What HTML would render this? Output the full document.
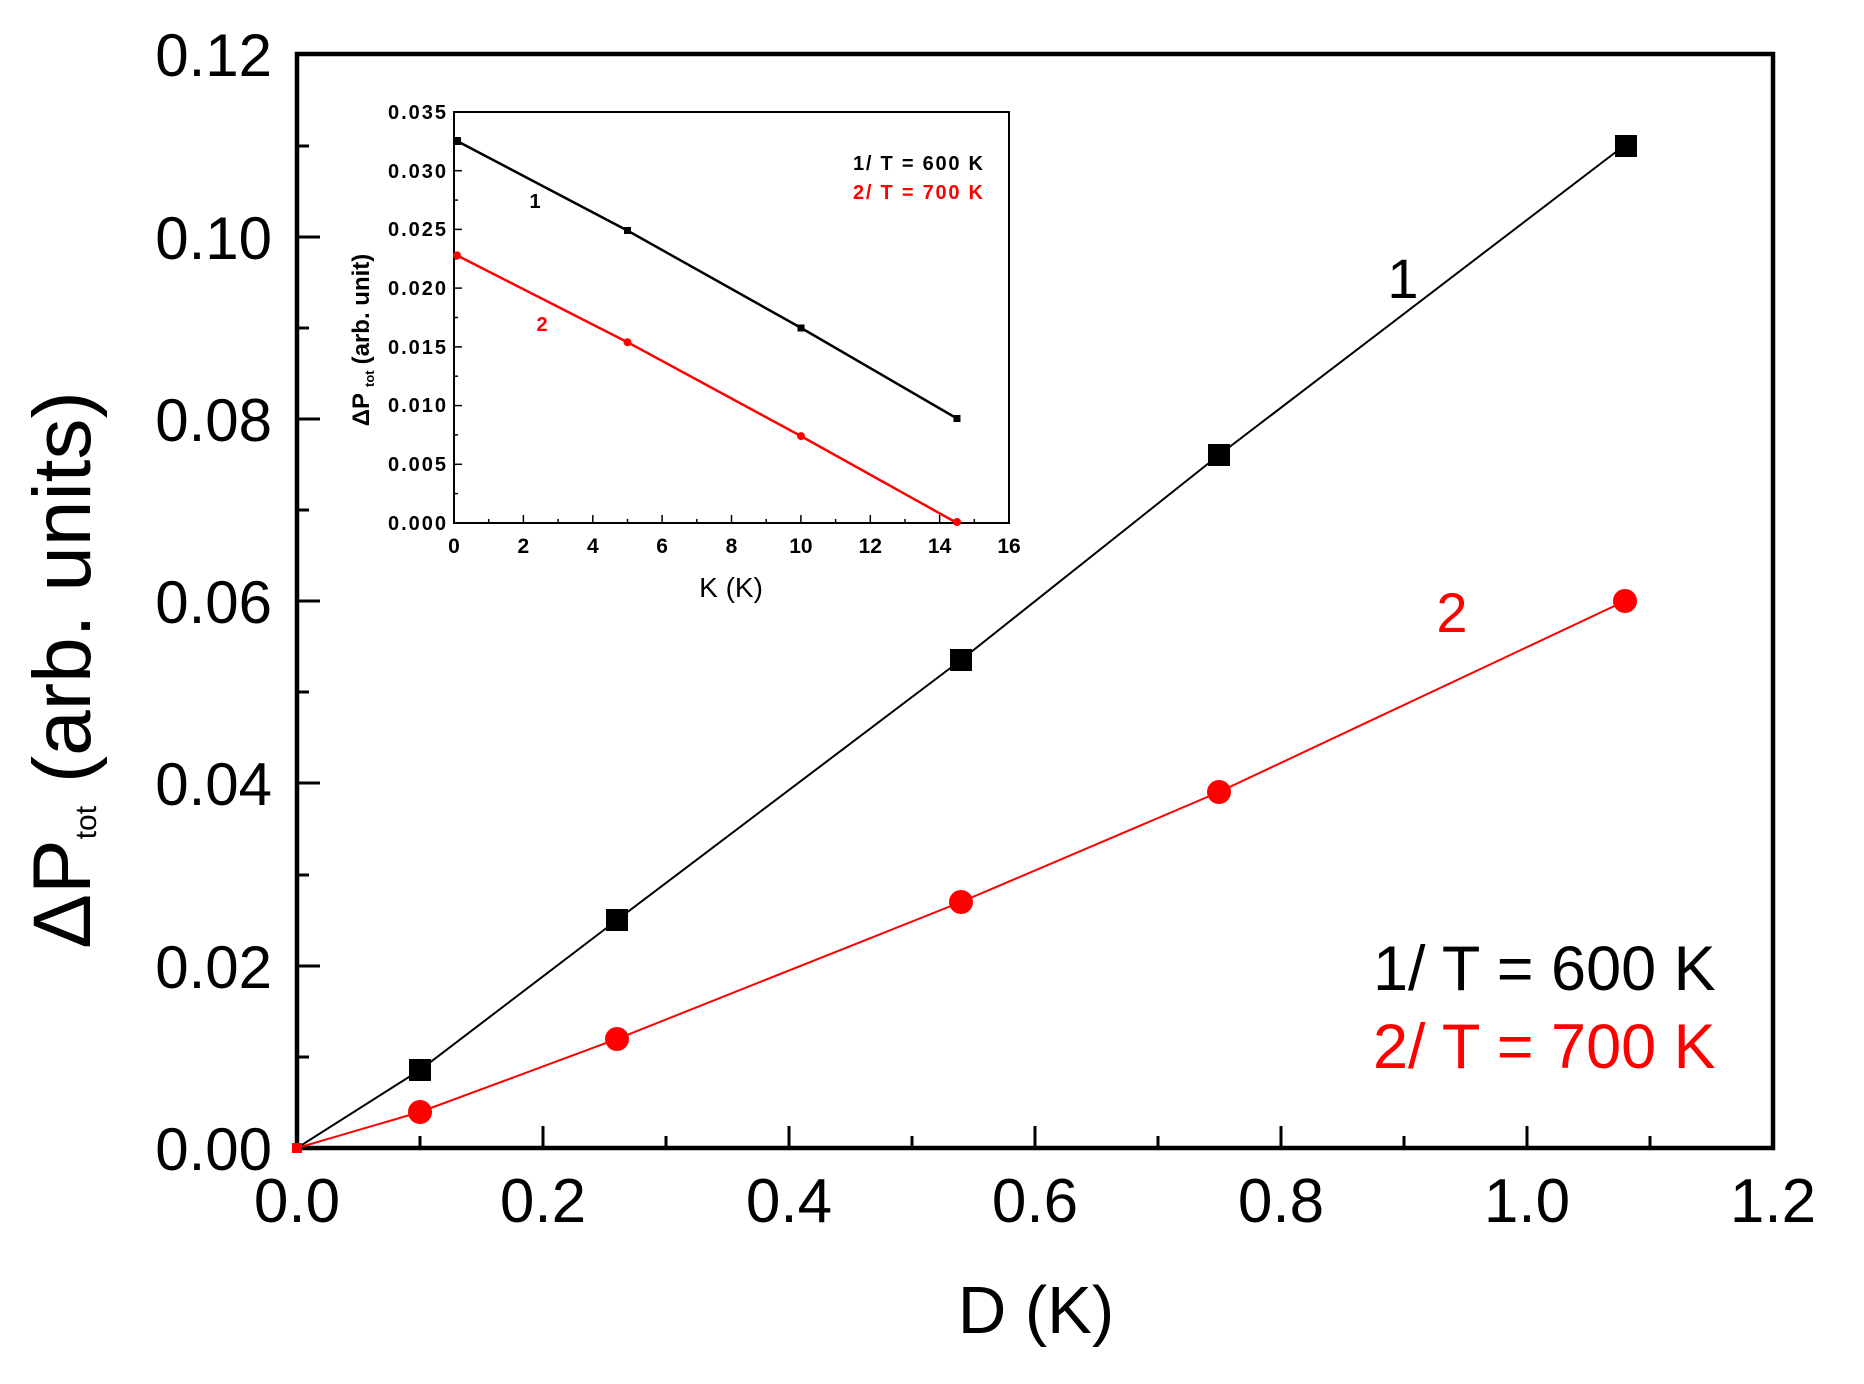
<!DOCTYPE html>
<html><head><meta charset="utf-8"><style>
html,body{margin:0;padding:0;background:#fff;}
svg{display:block;}
text{font-family:"Liberation Sans",Arial,sans-serif;}
</style></head><body>
<svg width="1864" height="1384" viewBox="0 0 1864 1384" xmlns="http://www.w3.org/2000/svg">
<rect width="1864" height="1384" fill="#fff"/>
<rect x="297" y="54" width="1476" height="1094" fill="none" stroke="#000" stroke-width="4.5"/>
<g stroke="#000" stroke-width="3">
<line x1="543" y1="1148" x2="543" y2="1126"/><line x1="789" y1="1148" x2="789" y2="1126"/><line x1="1035" y1="1148" x2="1035" y2="1126"/><line x1="1281" y1="1148" x2="1281" y2="1126"/><line x1="1527" y1="1148" x2="1527" y2="1126"/>
<line x1="420" y1="1148" x2="420" y2="1136"/><line x1="666" y1="1148" x2="666" y2="1136"/><line x1="912" y1="1148" x2="912" y2="1136"/><line x1="1158" y1="1148" x2="1158" y2="1136"/><line x1="1404" y1="1148" x2="1404" y2="1136"/><line x1="1650" y1="1148" x2="1650" y2="1136"/>
<line x1="297" y1="966" x2="320" y2="966"/><line x1="297" y1="783" x2="320" y2="783"/><line x1="297" y1="601" x2="320" y2="601"/><line x1="297" y1="419" x2="320" y2="419"/><line x1="297" y1="237" x2="320" y2="237"/>
<line x1="297" y1="1057" x2="309" y2="1057"/><line x1="297" y1="875" x2="309" y2="875"/><line x1="297" y1="692" x2="309" y2="692"/><line x1="297" y1="510" x2="309" y2="510"/><line x1="297" y1="328" x2="309" y2="328"/><line x1="297" y1="146" x2="309" y2="146"/>
</g>
<g font-size="60" text-anchor="end" fill="#000">
<text x="272" y="1170">0.00</text><text x="272" y="988">0.02</text><text x="272" y="805">0.04</text><text x="272" y="623">0.06</text><text x="272" y="441">0.08</text><text x="272" y="259">0.10</text><text x="272" y="76">0.12</text>
</g>
<g font-size="62" text-anchor="middle" fill="#000">
<text x="297" y="1222">0.0</text><text x="543" y="1222">0.2</text><text x="789" y="1222">0.4</text><text x="1035" y="1222">0.6</text><text x="1281" y="1222">0.8</text><text x="1527" y="1222">1.0</text><text x="1773" y="1222">1.2</text>
</g>
<text x="1036" y="1333" font-size="67" text-anchor="middle">D (K)</text>
<text transform="translate(90,670) rotate(-90)" font-size="82" text-anchor="middle">ΔP<tspan font-size="30" dy="6">tot</tspan><tspan dy="-6"> (arb. units)</tspan></text>
<polyline fill="none" stroke="#000" stroke-width="2" points="297,1148 420,1070 617,920 961,660 1219,455 1625,145"/>
<g fill="#000">
<rect x="409" y="1059" width="22" height="22"/><rect x="606" y="909" width="22" height="22"/><rect x="950" y="649" width="22" height="22"/><rect x="1208" y="444" width="22" height="22"/><rect x="1615" y="135" width="22" height="22"/>
</g>
<polyline fill="none" stroke="#f00" stroke-width="2" points="297,1148 420,1112 617,1039 961,902 1219,792 1625,601"/>
<g fill="#f00">
<rect x="292" y="1143" width="10" height="10"/>
<ellipse cx="420" cy="1112" rx="12" ry="12"/><ellipse cx="617" cy="1039" rx="12" ry="12"/><ellipse cx="961" cy="902" rx="12" ry="12"/><ellipse cx="1219" cy="792" rx="12" ry="12"/><ellipse cx="1625" cy="601" rx="12" ry="12"/>
</g>
<text x="1403" y="298" font-size="56" text-anchor="middle">1</text>
<text x="1452" y="632" font-size="56" text-anchor="middle" fill="#f00">2</text>
<text x="1373" y="990" font-size="63">1/ T = 600 K</text>
<text x="1373" y="1068" font-size="63" fill="#f00">2/ T = 700 K</text>
<rect x="454" y="112" width="555" height="411" fill="#fff" stroke="#000" stroke-width="2"/>
<g stroke="#000" stroke-width="1.5">
<line x1="523.4" y1="523" x2="523.4" y2="515"/><line x1="592.8" y1="523" x2="592.8" y2="515"/><line x1="662.1" y1="523" x2="662.1" y2="515"/><line x1="731.5" y1="523" x2="731.5" y2="515"/><line x1="800.9" y1="523" x2="800.9" y2="515"/><line x1="870.3" y1="523" x2="870.3" y2="515"/><line x1="939.6" y1="523" x2="939.6" y2="515"/>
<line x1="488.7" y1="523" x2="488.7" y2="519"/><line x1="558.1" y1="523" x2="558.1" y2="519"/><line x1="627.5" y1="523" x2="627.5" y2="519"/><line x1="696.8" y1="523" x2="696.8" y2="519"/><line x1="766.2" y1="523" x2="766.2" y2="519"/><line x1="835.6" y1="523" x2="835.6" y2="519"/><line x1="905" y1="523" x2="905" y2="519"/><line x1="974.3" y1="523" x2="974.3" y2="519"/>
<line x1="454" y1="464.3" x2="462" y2="464.3"/><line x1="454" y1="405.6" x2="462" y2="405.6"/><line x1="454" y1="346.9" x2="462" y2="346.9"/><line x1="454" y1="288.1" x2="462" y2="288.1"/><line x1="454" y1="229.4" x2="462" y2="229.4"/><line x1="454" y1="170.7" x2="462" y2="170.7"/>
<line x1="454" y1="493.6" x2="458" y2="493.6"/><line x1="454" y1="434.9" x2="458" y2="434.9"/><line x1="454" y1="376.2" x2="458" y2="376.2"/><line x1="454" y1="317.5" x2="458" y2="317.5"/><line x1="454" y1="258.8" x2="458" y2="258.8"/><line x1="454" y1="200.1" x2="458" y2="200.1"/><line x1="454" y1="141.4" x2="458" y2="141.4"/>
</g>
<g font-size="20" font-weight="bold" text-anchor="end">
<text x="446" y="530" textLength="58">0.000</text><text x="446" y="471" textLength="58">0.005</text><text x="446" y="412" textLength="58">0.010</text><text x="446" y="354" textLength="58">0.015</text><text x="446" y="295" textLength="58">0.020</text><text x="446" y="236" textLength="58">0.025</text><text x="446" y="178" textLength="58">0.030</text><text x="446" y="119" textLength="58">0.035</text>
</g>
<g font-size="21" font-weight="bold" text-anchor="middle">
<text x="454" y="553">0</text><text x="523.4" y="553">2</text><text x="592.8" y="553">4</text><text x="662.1" y="553">6</text><text x="731.5" y="553">8</text><text x="800.9" y="553">10</text><text x="870.3" y="553">12</text><text x="939.6" y="553">14</text><text x="1009" y="553">16</text>
</g>
<text x="731" y="597" font-size="28" text-anchor="middle">K (K)</text>
<text transform="translate(369,340) rotate(-90)" font-size="24" font-weight="bold" text-anchor="middle">ΔP<tspan font-size="13" dx="6" dy="5">tot</tspan><tspan dx="6" dy="-5">(arb. unit)</tspan></text>
<polyline fill="none" stroke="#000" stroke-width="2.5" points="457,141 627.5,230.6 801,327.9 957,418.5"/>
<g fill="#000"><rect x="454" y="137" width="7" height="8"/><rect x="624" y="227" width="7" height="7"/><rect x="797.5" y="324.5" width="7" height="7"/><rect x="953.5" y="415" width="7" height="7"/></g>
<polyline fill="none" stroke="#f00" stroke-width="2.5" points="457,255.4 627.5,342.2 801,436.1 957,523"/>
<g fill="#f00"><circle cx="457" cy="255.4" r="4"/><circle cx="627.5" cy="342.2" r="4"/><circle cx="801" cy="436.1" r="4"/><circle cx="957" cy="522" r="4"/></g>
<text x="535" y="208" font-size="20" font-weight="bold" text-anchor="middle">1</text>
<text x="542" y="331" font-size="20" font-weight="bold" text-anchor="middle" fill="#f00">2</text>
<text x="853" y="170" font-size="20" font-weight="bold" textLength="130">1/ T = 600 K</text>
<text x="853" y="199" font-size="20" font-weight="bold" fill="#f00" textLength="130">2/ T = 700 K</text>
</svg>
</body></html>
